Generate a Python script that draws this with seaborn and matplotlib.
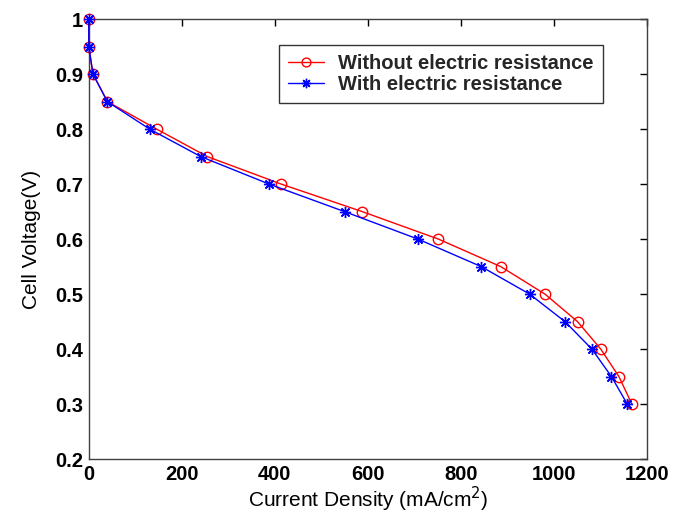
import matplotlib
matplotlib.use("Agg")
import matplotlib.pyplot as plt
import seaborn as sns
import pandas as pd

# Voltaje de celda (V) y densidad de corriente (mA/cm2)
voltage = [1.0, 0.95, 0.9, 0.85, 0.8, 0.75, 0.7, 0.65, 0.6, 0.55, 0.5, 0.45, 0.4, 0.35, 0.3]
current_without = [0, 0, 9, 40, 146, 255, 414, 588, 752, 886, 981, 1051, 1101, 1140, 1168]
current_with = [0, 0, 9, 40, 131, 241, 388, 550, 708, 844, 948, 1024, 1082, 1124, 1158]

label_without = "Without electric resistance"
label_with = "With electric resistance"

df_without = pd.DataFrame({"current": current_without, "voltage": voltage})
df_with = pd.DataFrame({"current": current_with, "voltage": voltage})

sns.set_theme(style="white")
plt.rcParams["font.family"] = ["Liberation Sans", "DejaVu Sans"]

fig = plt.figure(figsize=(6.83, 5.17), dpi=100)
ax = fig.add_axes([0.130, 0.112, 0.817, 0.851])

# estimator=None para no promediar los puntos con x repetida
sns.lineplot(data=df_without, x="current", y="voltage", sort=False, estimator=None,
             ax=ax, color="red", marker="o", markersize=7.5, markerfacecolor="none",
             markeredgecolor="red", markeredgewidth=1.0, linewidth=1.0,
             label=label_without, clip_on=False, zorder=3)
# asterisco tipo MATLAB
sns.lineplot(data=df_with, x="current", y="voltage", sort=False, estimator=None,
             ax=ax, color="blue", marker=(8, 2, 0), markersize=8, markeredgecolor="blue",
             markeredgewidth=1.0, linewidth=1.0, label=label_with,
             clip_on=False, zorder=4)

ax.set_xlim(0, 1200)
ax.set_ylim(0.2, 1.0)
ax.set_xticks([0, 200, 400, 600, 800, 1000, 1200])
ax.set_yticks([0.2, 0.3, 0.4, 0.5, 0.6, 0.7, 0.8, 0.9, 1.0])
ax.set_yticklabels(["0.2", "0.3", "0.4", "0.5", "0.6", "0.7", "0.8", "0.9", "1"])
ax.tick_params(direction="in", length=5, width=1, top=True, right=True,
               labelsize=14.5, colors="black", pad=4)
for lab in ax.get_xticklabels() + ax.get_yticklabels():
    lab.set_fontweight("bold")
for s in ax.spines.values():
    s.set_color("#404040")
    s.set_linewidth(1.0)

ax.set_xlabel("Current Density (mA/cm$^2$)", fontsize=15, color="black", labelpad=1)
ax.set_ylabel("Cell Voltage(V)", fontsize=15, color="black", labelpad=10)

leg = ax.legend(loc="upper right", bbox_to_anchor=(0.921, 0.941), fontsize=14.5,
                frameon=True, fancybox=False, edgecolor="black",
                handlelength=1.8, handletextpad=0.7, borderpad=0.45,
                labelspacing=0.1, borderaxespad=0, markerscale=0.85)
leg.get_frame().set_linewidth(1.0)
for t in leg.get_texts():
    t.set_fontweight("bold")

fig.savefig("out.png", dpi=100)
